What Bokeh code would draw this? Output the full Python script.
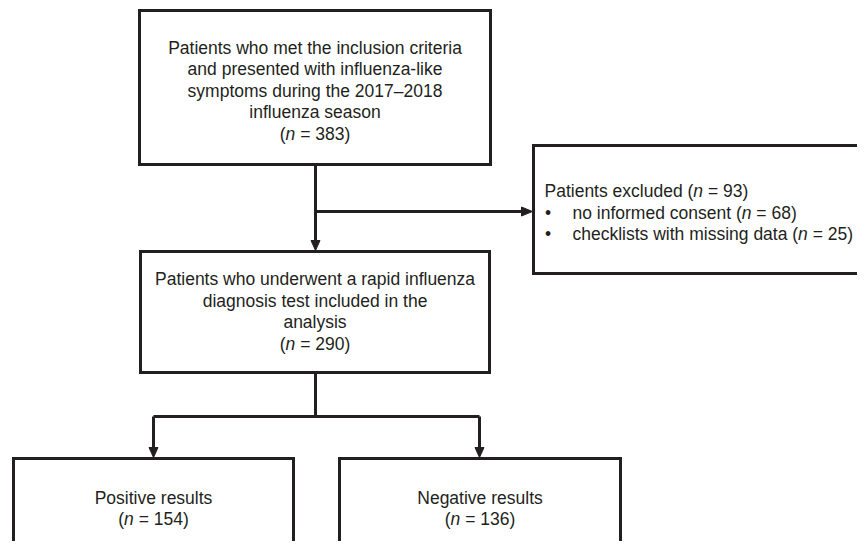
from bokeh.plotting import figure
from bokeh.models import Range1d, ColumnDataSource
from bokeh.core.properties import value
from bokeh.embed import file_html
from bokeh.resources import INLINE

# ---- data ----
n_total = 383
n_excluded = 93
n_no_consent = 68
n_missing = 25
n_included = 290
n_positive = 154
n_negative = 136

top_lines = ["Patients who met the inclusion criteria",
             "and presented with influenza-like",
             "symptoms during the 2017\u20132018",
             "influenza season"]
mid_lines = ["Patients who underwent a rapid influenza",
             "diagnosis test included in the",
             "analysis"]
excl_title = "Patients excluded"
excl_items = ["no informed consent", "checklists with missing data"]
excl_counts = [n_no_consent, n_missing]
pos_label = "Positive results"
neg_label = "Negative results"

# ---- layout (pixel-like coordinates) ----
W, H = 857, 541
FS = 17.5
LH = 21.5
INK = "#231f20"
FONT = "Liberation Sans"

p = figure(width=W, height=H, output_backend="svg", toolbar_location=None,
           x_range=Range1d(0, W), y_range=Range1d(H, 0),
           min_border=0, background_fill_color="white")
p.axis.visible = False
p.grid.visible = False
p.outline_line_color = None

# Arial-like advance widths (per 1000 em)
AW = {' ': 278, '(': 333, ')': 333, '=': 584, '-': 333, '\u2013': 556, '\u2022': 350,
      'P': 667, 'N': 722}
for ch in "0123456789":
    AW[ch] = 556
AW.update({'a': 556, 'b': 556, 'c': 500, 'd': 556, 'e': 556, 'f': 278, 'g': 556, 'h': 556,
           'i': 222, 'j': 222, 'k': 500, 'l': 222, 'm': 833, 'n': 556, 'o': 556, 'p': 556,
           'q': 556, 'r': 333, 's': 500, 't': 278, 'u': 556, 'v': 500, 'w': 722, 'x': 500,
           'y': 500, 'z': 500})


def tw(s):
    return sum(AW.get(c, 556) for c in s) * FS / 1000.0


norm = dict(x=[], y=[], text=[])
ital = dict(x=[], y=[], text=[])


def put_line(segs, y, cx=None, left=None):
    total = sum(tw(t) for t, _ in segs)
    x = left if left is not None else cx - total / 2.0
    for t, it in segs:
        d = ital if it else norm
        core = t.lstrip(" ")
        lead = t[:len(t) - len(core)]
        d["x"].append(x + tw(lead))
        d["y"].append(y)
        d["text"].append(core)
        x += tw(t)


def count_segs(prefix, n):
    return [(prefix + "(", False), ("n", True), (" = %d)" % n, False)]


def box(l, r, t, b):
    p.quad(left=l, right=r, top=t, bottom=b, fill_color=None,
           line_color=INK, line_width=3, line_join="miter")


def down_arrow(x, tip):
    p.patch([x - 4.5, x + 4.5, x], [tip - 10, tip - 10, tip], color=INK, line_width=1)


def right_arrow(tip, y):
    p.patch([tip - 11, tip - 11, tip], [y - 4.5, y + 4.5, y], color=INK, line_width=1)


# boxes
box(139, 490, 10, 164)          # top
box(140, 489, 251, 372)         # middle
box(533, 875, 145, 273)         # excluded (runs off the right edge)
box(13, 293, 458, 570)          # positive
box(339, 620, 458, 570)         # negative

# connectors
p.line([315, 315], [164, 241], line_color=INK, line_width=3)
down_arrow(315, 250)
p.line([315, 523], [211, 211], line_color=INK, line_width=3)
right_arrow(532, 211)
p.line([315, 315], [372, 416], line_color=INK, line_width=3)
p.line([153, 479], [416, 416], line_color=INK, line_width=3, line_join="miter")
p.line([153, 153], [416, 448], line_color=INK, line_width=3)
p.line([479, 479], [416, 448], line_color=INK, line_width=3)
down_arrow(153, 457)
down_arrow(479, 457)

# texts
cx_top = 314.5
y0 = 47
for i, s in enumerate(top_lines):
    put_line([(s, False)], y0 + i * LH, cx=cx_top)
put_line(count_segs("", n_total), y0 + len(top_lines) * LH, cx=cx_top)

cx_mid = 314.5
y0 = 343 - len(mid_lines) * LH
for i, s in enumerate(mid_lines):
    put_line([(s, False)], y0 + i * LH, cx=cx_mid)
put_line(count_segs("", n_included), 343, cx=cx_mid)

put_line(count_segs(excl_title + " ", n_excluded), 190.5, left=544)
for i, (s, n) in enumerate(zip(excl_items, excl_counts)):
    yy = 212 + i * LH
    put_line([("\u2022", False)], yy, left=544.5)
    put_line(count_segs(s + " ", n), yy, left=572)

put_line([(pos_label, False)], 497, cx=153)
put_line(count_segs("", n_positive), 518.5, cx=153)
put_line([(neg_label, False)], 497, cx=479.5)
put_line(count_segs("", n_negative), 518.5, cx=479.5)

for d, style in ((norm, "normal"), (ital, "italic")):
    p.text(x="x", y="y", text="text", source=ColumnDataSource(d),
           text_font=value(FONT), text_font_size="%gpx" % FS,
           text_font_style=style, text_color=INK,
           text_align="left", text_baseline="middle")

open("out.html", "w").write(file_html(p, INLINE))
